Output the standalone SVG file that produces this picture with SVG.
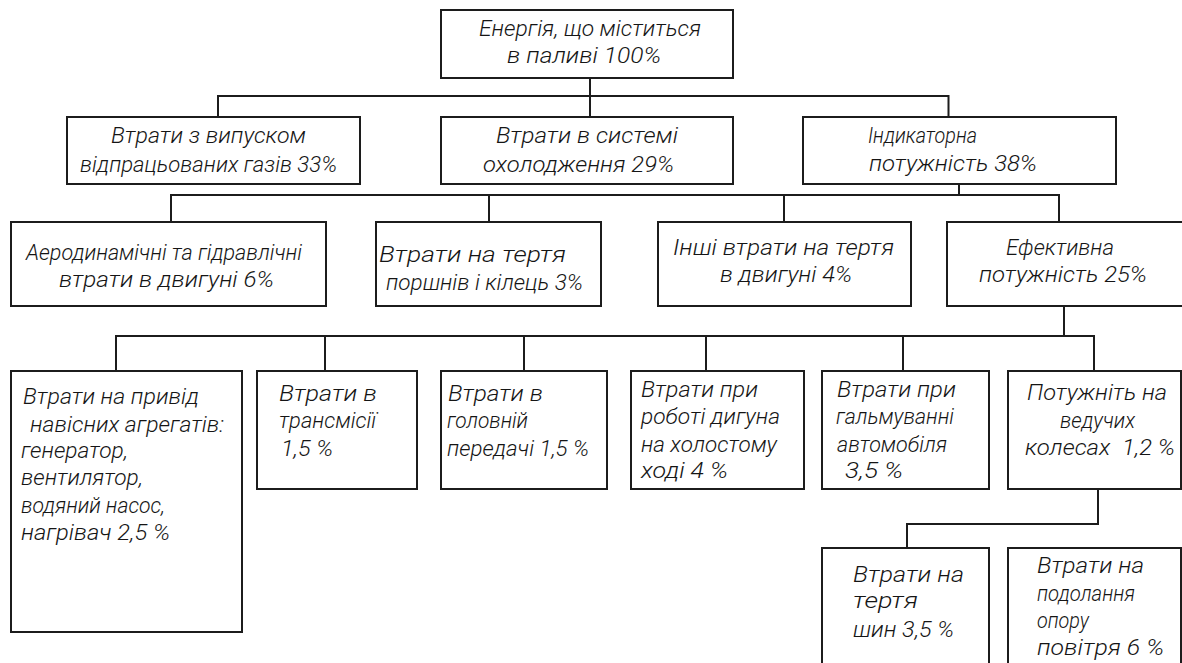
<svg xmlns="http://www.w3.org/2000/svg" width="1182" height="663" viewBox="0 0 1182 663">
<style>
.box{fill:#fff;stroke:#1c1c1c;stroke-width:2}
.c{fill:none;stroke:#1c1c1c;stroke-width:2}
text{font-family:Roboto,"Liberation Sans","DejaVu Sans",sans-serif;font-style:italic;font-weight:300;font-size:22px;fill:#151515}
</style>
<rect width="1182" height="663" fill="#fff"/>
<g id="connectors">
<path class="c" d="M590 78V117M218 117V96H948.5V117"/>
<path class="c" d="M959 184V195M171 222V195H1059V222M489 195V222M784 195V222"/>
<path class="c" d="M1064 306V336M116 371V336H1094V371M325 336V371M524 336V371M706 336V371M903 336V371"/>
<path class="c" d="M1098 489V524H907V548"/>
</g>
<g id="n-fuel"><rect class="box" x="441" y="10" width="292" height="68"/>
<text x="479" y="36" textLength="222" lengthAdjust="spacingAndGlyphs">Енергія, що міститься</text>
<text x="507" y="63" textLength="154" lengthAdjust="spacingAndGlyphs">в паливі 100%</text></g>
<g id="n-exhaust"><rect class="box" x="67" y="117" width="293" height="67"/>
<text x="111" y="143" textLength="195" lengthAdjust="spacingAndGlyphs">Втрати з випуском</text>
<text x="80" y="172" textLength="257" lengthAdjust="spacingAndGlyphs">відпрацьованих газів 33%</text></g>
<g id="n-cooling"><rect class="box" x="441" y="117" width="292" height="67"/>
<text x="496" y="143" textLength="182" lengthAdjust="spacingAndGlyphs">Втрати в системі</text>
<text x="483" y="172" textLength="191" lengthAdjust="spacingAndGlyphs">охолодження 29%</text></g>
<g id="n-indicated"><rect class="box" x="803" y="117" width="313" height="67"/>
<text x="868" y="143" textLength="109" lengthAdjust="spacingAndGlyphs">Індикаторна</text>
<text x="869" y="171" textLength="168" lengthAdjust="spacingAndGlyphs">потужність 38%</text></g>
<g id="n-aero"><rect class="box" x="11" y="222" width="315" height="84"/>
<text x="26" y="260" textLength="276" lengthAdjust="spacingAndGlyphs">Аеродинамічні та гідравлічні</text>
<text x="59" y="287" textLength="215" lengthAdjust="spacingAndGlyphs">втрати в двигуні 6%</text></g>
<g id="n-piston"><rect class="box" x="376" y="222" width="225" height="84"/>
<text x="379" y="262" textLength="187" lengthAdjust="spacingAndGlyphs">Втрати на тертя</text>
<text x="386" y="290" textLength="197" lengthAdjust="spacingAndGlyphs">поршнів і кілець 3%</text></g>
<g id="n-otherfric"><rect class="box" x="658" y="222" width="253" height="84"/>
<text x="673" y="255" textLength="221" lengthAdjust="spacingAndGlyphs">Інші втрати на тертя</text>
<text x="720" y="282" textLength="132" lengthAdjust="spacingAndGlyphs">в двигуні 4%</text></g>
<g id="n-effective"><rect class="box" x="947" y="222" width="236" height="84"/>
<text x="1006" y="255" textLength="108" lengthAdjust="spacingAndGlyphs">Ефективна</text>
<text x="979" y="282" textLength="168" lengthAdjust="spacingAndGlyphs">потужність 25%</text></g>
<g id="n-aux"><rect class="box" x="11" y="371" width="231" height="261"/>
<text x="23" y="404" textLength="176" lengthAdjust="spacingAndGlyphs">Втрати на привід</text>
<text x="30" y="432" textLength="194" lengthAdjust="spacingAndGlyphs">навісних агрегатів:</text>
<text x="21" y="458" textLength="107" lengthAdjust="spacingAndGlyphs">генератор,</text>
<text x="21" y="485" textLength="122" lengthAdjust="spacingAndGlyphs">вентилятор,</text>
<text x="21" y="513" textLength="144" lengthAdjust="spacingAndGlyphs">водяний насос,</text>
<text x="21" y="540" textLength="149" lengthAdjust="spacingAndGlyphs">нагрівач 2,5 %</text></g>
<g id="n-trans"><rect class="box" x="257" y="371" width="160" height="118"/>
<text x="279" y="401" textLength="98" lengthAdjust="spacingAndGlyphs">Втрати в</text>
<text x="279" y="428" textLength="97" lengthAdjust="spacingAndGlyphs">трансмісії</text>
<text x="281" y="456" textLength="52" lengthAdjust="spacingAndGlyphs">1,5 %</text></g>
<g id="n-final"><rect class="box" x="441" y="371" width="166" height="118"/>
<text x="448" y="401" textLength="95" lengthAdjust="spacingAndGlyphs">Втрати в</text>
<text x="447" y="428" textLength="81" lengthAdjust="spacingAndGlyphs">головній</text>
<text x="447" y="456" textLength="142" lengthAdjust="spacingAndGlyphs">передачі 1,5 %</text></g>
<g id="n-idle"><rect class="box" x="631" y="371" width="173" height="118"/>
<text x="641" y="397" textLength="117" lengthAdjust="spacingAndGlyphs">Втрати при</text>
<text x="641" y="424" textLength="139" lengthAdjust="spacingAndGlyphs">роботі дигуна</text>
<text x="641" y="452" textLength="136" lengthAdjust="spacingAndGlyphs">на холостому</text>
<text x="641" y="478" textLength="87" lengthAdjust="spacingAndGlyphs">ході 4 %</text></g>
<g id="n-brake"><rect class="box" x="822" y="371" width="167" height="118"/>
<text x="837" y="397" textLength="119" lengthAdjust="spacingAndGlyphs">Втрати при</text>
<text x="836" y="424" textLength="118" lengthAdjust="spacingAndGlyphs">гальмуванні</text>
<text x="837" y="452" textLength="110" lengthAdjust="spacingAndGlyphs">автомобіля</text>
<text x="845" y="478" textLength="58" lengthAdjust="spacingAndGlyphs">3,5 %</text></g>
<g id="n-wheels"><rect class="box" x="1008" y="371" width="173" height="118"/>
<text x="1027" y="400" textLength="140" lengthAdjust="spacingAndGlyphs">Потужніть на</text>
<text x="1060" y="428" textLength="75" lengthAdjust="spacingAndGlyphs">ведучих</text>
<text x="1025" y="455" textLength="150" lengthAdjust="spacingAndGlyphs" xml:space="preserve">колесах  1,2 %</text></g>
<g id="n-tyres"><rect class="box" x="822" y="548" width="167" height="125"/>
<text x="853" y="582" textLength="111" lengthAdjust="spacingAndGlyphs">Втрати на</text>
<text x="853" y="608" textLength="65" lengthAdjust="spacingAndGlyphs">тертя</text>
<text x="853" y="637" textLength="101" lengthAdjust="spacingAndGlyphs">шин 3,5 %</text></g>
<g id="n-air"><rect class="box" x="1008" y="548" width="173" height="125"/>
<text x="1037" y="573" textLength="107" lengthAdjust="spacingAndGlyphs">Втрати на</text>
<text x="1037" y="601" textLength="98" lengthAdjust="spacingAndGlyphs">подолання</text>
<text x="1037" y="628" textLength="52" lengthAdjust="spacingAndGlyphs">опору</text>
<text x="1037" y="655" textLength="127" lengthAdjust="spacingAndGlyphs">повітря 6 %</text></g>
</svg>
